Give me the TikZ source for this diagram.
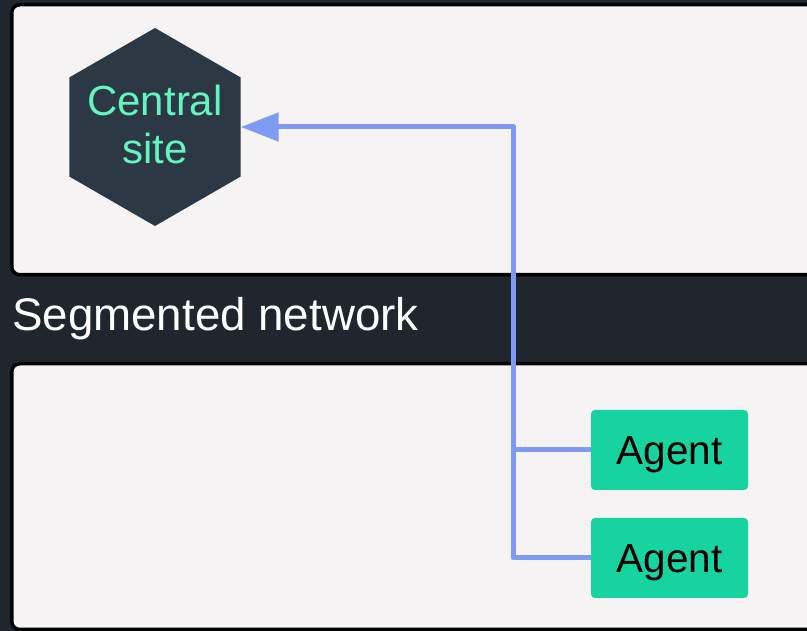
\documentclass[tikz,border=0pt]{standalone}
\usepackage{fontspec}
\setmainfont{Liberation Sans}
\usetikzlibrary{shapes.geometric,arrows.meta}
\definecolor{bgdark}{HTML}{1F262E}
\definecolor{panelfill}{HTML}{F5F3F4}
\definecolor{hexfill}{HTML}{2D3845}
\definecolor{minttext}{HTML}{62F5BF}
\definecolor{agentfill}{HTML}{16D3A0}
\definecolor{connblue}{HTML}{7F9AF2}
\tikzset{
  panel/.style={draw=black, line width=3.5pt, fill=panelfill, rounded corners=8pt},
  hexnode/.style={regular polygon, regular polygon sides=6, shape border rotate=30,
    minimum size=198pt, inner sep=0pt, outer sep=0pt, fill=hexfill},
  hextext/.style={text=minttext, align=center, inner sep=0pt, font=\fontsize{42}{48}\selectfont},
  agentbox/.style={rectangle, rounded corners=4pt, fill=agentfill, minimum width=157pt,
    minimum height=80pt, inner sep=0pt, outer sep=0pt, text=black, text height=29pt, text depth=0pt,
    font=\fontsize{40.5}{46}\selectfont},
  conn/.style={draw=connblue, line width=5pt},
  grouplabel/.style={text=white, inner sep=0pt, anchor=base west, font=\fontsize{45.7}{52}\selectfont}
}
\begin{document}
\begin{tikzpicture}[x=1pt,y=1pt]
\useasboundingbox (0,0) rectangle (807,631);
\clip (0,0) rectangle (807,631);
\fill[bgdark] (0,0) rectangle (807,631);
% panels
\draw[panel] (11.75,626.25) rectangle (880,356.25);
\draw[panel] (11.75,267.25) rectangle (880,1.5);
% label
\node[grouplabel] (seg) at (12,300) {Segmented network};
% hexagon
\node[hexnode, label={[hextext]center:Central\\site\rule[-6pt]{0pt}{0pt}}] (hex) at (155,504) {};
% agents
\node[agentbox] (a1) at (669.5,181) {Agent};
\node[agentbox] (a2) at (669.5,73) {Agent};
% connectors
\coordinate (j) at (513,504);
\draw[conn, line join=round, -{Triangle[length=38pt,width=28pt]}] (a2.west) -| (j) -- (hex.east);
\draw[conn] (a1.west) -- (a1.west -| j);
\end{tikzpicture}
\end{document}
